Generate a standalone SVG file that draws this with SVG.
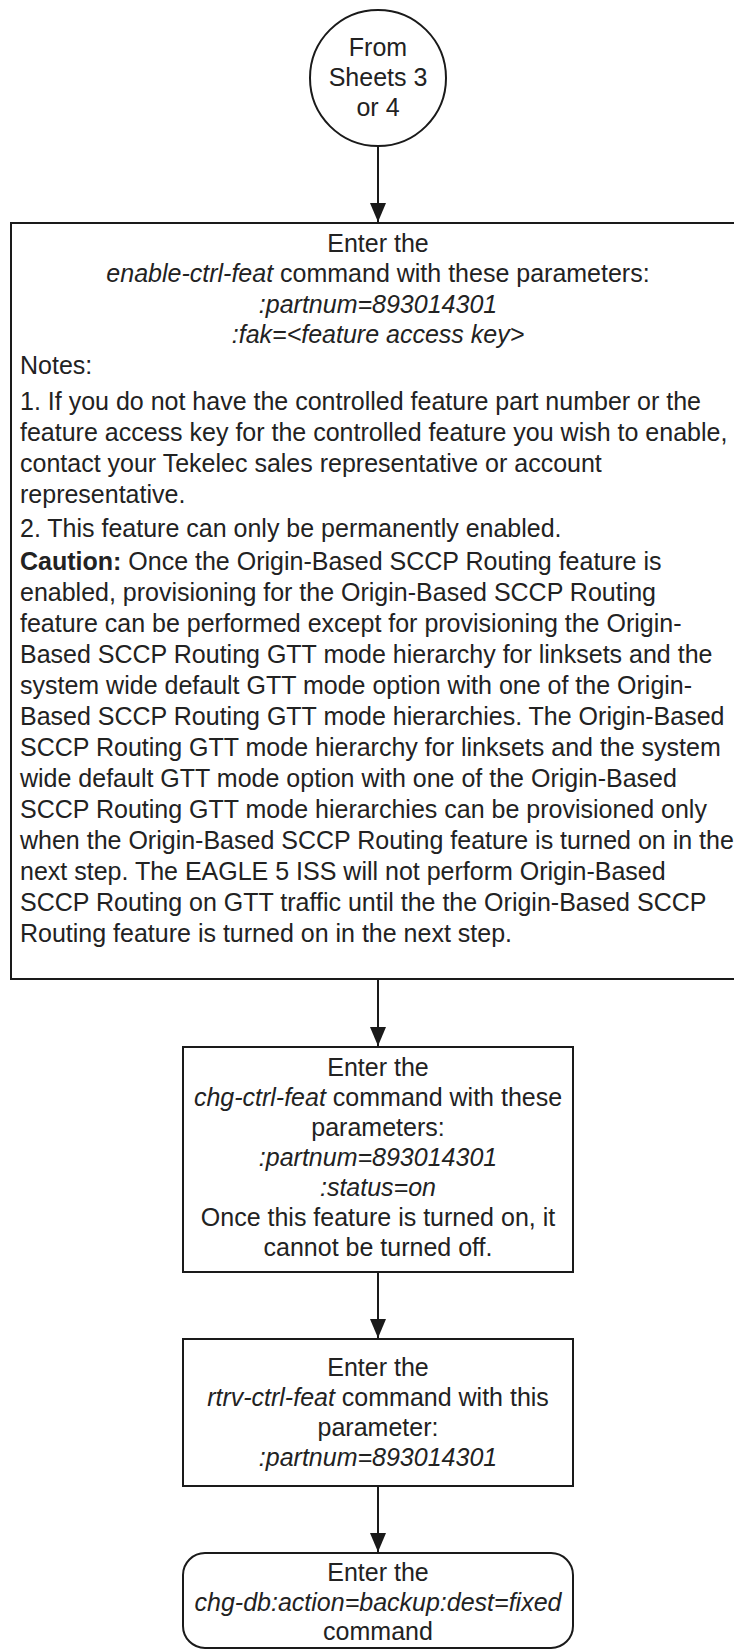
<svg xmlns="http://www.w3.org/2000/svg" width="734" height="1650" viewBox="0 0 734 1650">
<defs>
<style>
.box{fill:#fff;stroke:#1a1a1a;stroke-width:2}
.t{font-family:"Liberation Sans",Arial,sans-serif;font-size:25px;fill:#222}
.c{text-anchor:middle}
.i{font-style:italic}
.b{font-weight:bold}
.line{stroke:#1a1a1a;stroke-width:2;fill:none}
</style>
<marker id="ah" markerUnits="userSpaceOnUse" markerWidth="18" markerHeight="22" refX="19" refY="8" orient="auto">
<path d="M0,0 L19,8 L0,16 Z" fill="#1a1a1a"/>
</marker>
</defs>
<rect width="734" height="1650" fill="#fff"/>
<g id="connectors">
<line class="line" x1="378" y1="147" x2="378" y2="222" marker-end="url(#ah)"/>
<line class="line" x1="378" y1="979" x2="378" y2="1046" marker-end="url(#ah)"/>
<line class="line" x1="378" y1="1272" x2="378" y2="1338" marker-end="url(#ah)"/>
<line class="line" x1="378" y1="1486" x2="378" y2="1552" marker-end="url(#ah)"/>
</g>
<g id="start">
<circle class="box" cx="378" cy="78" r="68"/>
<text class="t c" x="378" y="56">From</text>
<text class="t c" x="378" y="86">Sheets 3</text>
<text class="t c" x="378" y="116">or 4</text>
</g>
<g id="enable">
<rect class="box" x="11" y="223" width="740" height="756"/>
<text class="t c" x="378" y="252">Enter the</text>
<text class="t c" x="378" y="282"><tspan class="i">enable-ctrl-feat</tspan> command with these parameters:</text>
<text class="t c i" x="378" y="313">:partnum=893014301</text>
<text class="t c i" x="378" y="343">:fak=&lt;feature access key&gt;</text>
<text class="t" x="20" y="374">Notes:</text>
<text class="t" x="20" y="410">1. If you do not have the controlled feature part number or the</text>
<text class="t" x="20" y="441">feature access key for the controlled feature you wish to enable,</text>
<text class="t" x="20" y="472">contact your Tekelec sales representative or account</text>
<text class="t" x="20" y="503">representative.</text>
<text class="t" x="20" y="537">2. This feature can only be permanently enabled.</text>
<text class="t" x="20" y="570"><tspan class="b">Caution:</tspan> Once the Origin-Based SCCP Routing feature is</text>
<text class="t" x="20" y="601">enabled, provisioning for the Origin-Based SCCP Routing</text>
<text class="t" x="20" y="632">feature can be performed except for provisioning the Origin-</text>
<text class="t" x="20" y="663">Based SCCP Routing GTT mode hierarchy for linksets and the</text>
<text class="t" x="20" y="694">system wide default GTT mode option with one of the Origin-</text>
<text class="t" x="20" y="725">Based SCCP Routing GTT mode hierarchies. The Origin-Based</text>
<text class="t" x="20" y="756">SCCP Routing GTT mode hierarchy for linksets and the system</text>
<text class="t" x="20" y="787">wide default GTT mode option with one of the Origin-Based</text>
<text class="t" x="20" y="818">SCCP Routing GTT mode hierarchies can be provisioned only</text>
<text class="t" x="20" y="849">when the Origin-Based SCCP Routing feature is turned on in the</text>
<text class="t" x="20" y="880">next step. The EAGLE 5 ISS will not perform Origin-Based</text>
<text class="t" x="20" y="911">SCCP Routing on GTT traffic until the the Origin-Based SCCP</text>
<text class="t" x="20" y="942">Routing feature is turned on in the next step.</text>
</g>
<g id="chg-ctrl-feat">
<rect class="box" x="183" y="1047" width="390" height="225"/>
<text class="t c" x="378" y="1076">Enter the</text>
<text class="t c" x="378" y="1106"><tspan class="i">chg-ctrl-feat</tspan> command with these</text>
<text class="t c" x="378" y="1136">parameters:</text>
<text class="t c i" x="378" y="1166">:partnum=893014301</text>
<text class="t c i" x="378" y="1196">:status=on</text>
<text class="t c" x="378" y="1226">Once this feature is turned on, it</text>
<text class="t c" x="378" y="1256">cannot be turned off.</text>
</g>
<g id="rtrv-ctrl-feat">
<rect class="box" x="183" y="1339" width="390" height="147"/>
<text class="t c" x="378" y="1376">Enter the</text>
<text class="t c" x="378" y="1406"><tspan class="i">rtrv-ctrl-feat</tspan> command with this</text>
<text class="t c" x="378" y="1436">parameter:</text>
<text class="t c i" x="378" y="1466">:partnum=893014301</text>
</g>
<g id="chg-db">
<rect class="box" x="183" y="1553" width="390" height="95" rx="22" ry="22"/>
<text class="t c" x="378" y="1581">Enter the</text>
<text class="t c i" x="378" y="1611">chg-db:action=backup:dest=fixed</text>
<text class="t c" x="378" y="1640">command</text>
</g>
</svg>
